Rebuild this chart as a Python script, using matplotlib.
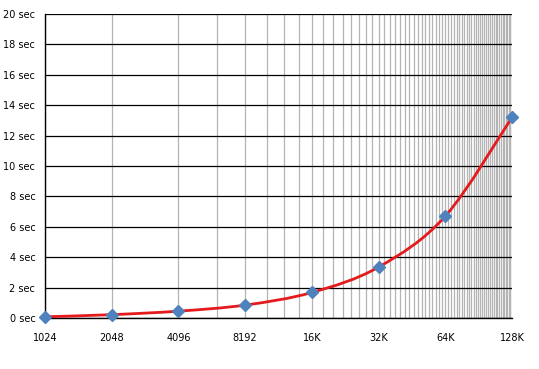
import matplotlib
matplotlib.use('Agg')
import matplotlib.pyplot as plt
from matplotlib.path import Path
from matplotlib.patches import PathPatch
from matplotlib.ticker import FixedLocator, FixedFormatter, NullFormatter
import numpy as np

# data
sizes = [1024, 2048, 4096, 8192, 16384, 32768, 65536, 131072]
size_labels = ['1024', '2048', '4096', '8192', '16K', '32K', '64K', '128K']
seconds = [0.08, 0.22, 0.45, 0.85, 1.68, 3.35, 6.7, 13.2]
y_ticks = list(range(0, 21, 2))

plt.rcParams['font.family'] = ['DejaVu Sans']

fig = plt.figure(figsize=(5.39, 3.69), dpi=100)
ax = fig.add_axes([45/539, 51/369, 467/539, 304/369])

ax.set_xscale('log', base=2)
ax.set_xlim(1024, 131072)
ax.set_ylim(0, 20)

ax.xaxis.set_major_locator(FixedLocator(sizes))
ax.xaxis.set_major_formatter(FixedFormatter(size_labels))
ax.xaxis.set_minor_locator(FixedLocator(list(range(2048, 131072, 2048))))
ax.xaxis.set_minor_formatter(NullFormatter())
ax.set_yticks(y_ticks)
ax.set_yticklabels([f'{v} sec' for v in y_ticks])

ax.grid(True, axis='x', which='both', color='#b4b4b4', lw=0.9)
ax.grid(True, axis='y', which='major', color='black', lw=0.9)
ax.set_axisbelow(True)

ax.tick_params(axis='both', which='both', length=0, labelsize=7)
ax.tick_params(axis='x', pad=11)
ax.tick_params(axis='y', pad=7)

for s in ['top', 'right']:
    ax.spines[s].set_visible(False)
for s in ['left', 'bottom']:
    ax.spines[s].set_color('black')
    ax.spines[s].set_linewidth(1)

# smoothed line (Excel-style), built in display space from the data points
fig.canvas.draw()
pts = ax.transData.transform(np.column_stack([sizes, seconds]))
verts = [pts[0]]
codes = [Path.MOVETO]
t = 1 / 6
for i in range(len(pts) - 1):
    p0 = pts[max(i - 1, 0)]
    p1 = pts[i]
    p2 = pts[i + 1]
    p3 = pts[min(i + 2, len(pts) - 1)]
    verts += [p1 + (p2 - p0) * t, p2 - (p3 - p1) * t, p2]
    codes += [Path.CURVE4] * 3
verts = ax.transData.inverted().transform(np.array(verts))
ax.add_patch(PathPatch(Path(verts, codes), fill=False, edgecolor='#e41a1c',
                       lw=2, zorder=3, clip_on=False))

ax.plot(sizes, seconds, ls='none', marker='D', ms=6.5, color='#4f81bd',
        markeredgecolor='#4f81bd', zorder=4, clip_on=False)

fig.savefig('out.png', dpi=100)
